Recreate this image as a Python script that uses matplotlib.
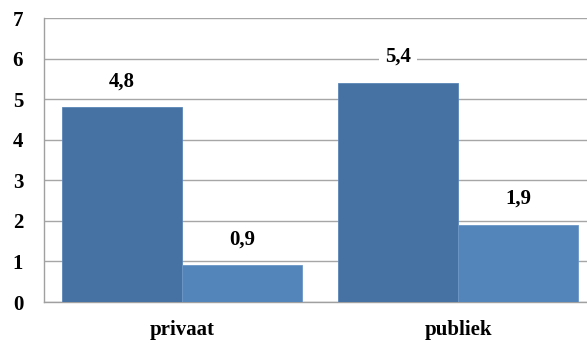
import numpy as np
import matplotlib
matplotlib.use('Agg')
import matplotlib.pyplot as plt

categories = ['privaat', 'publiek']
serie_a = [4.8, 5.4]
serie_b = [0.9, 1.9]
y_ticks = [0, 1, 2, 3, 4, 5, 6, 7]

plt.rcParams['font.family'] = ['Liberation Serif', 'DejaVu Serif']
plt.rcParams['font.weight'] = 'bold'

fig = plt.figure(figsize=(5.87, 3.45), dpi=100)
W, H = 587, 345
# axes reach a bit past the right edge of the canvas
ax = fig.add_axes([44 / W, 1 - 302 / H, 552 / W, 284 / H])

x = np.arange(len(categories))
bw = 120 / 276
b1 = ax.bar(x - bw / 2, serie_a, bw, color='#4672A3', edgecolor='#5B86B8', linewidth=0.6, zorder=3)
b2 = ax.bar(x + bw / 2, serie_b, bw, color='#5485BA', edgecolor='#6C97C6', linewidth=0.6, zorder=3)

# waardelabels boven de staven, met witte achtergrond over de rasterlijnen
for bars, vals in ((b1, serie_a), (b2, serie_b)):
    for r, v in zip(bars, vals):
        ax.annotate(f'{v:.1f}'.replace('.', ','), (r.get_x() + r.get_width() / 2, v),
                    xytext=(0, 26), textcoords='offset pixels',
                    ha='center', va='center', fontsize=15, fontweight='bold',
                    bbox=dict(facecolor='white', edgecolor='none', pad=4), zorder=4)

ax.set_xlim(-0.5, 1.5)
ax.set_ylim(0, 7)
ax.set_yticks(y_ticks)
ax.set_yticklabels([str(t) for t in y_ticks], fontsize=15, fontweight='bold')
ax.set_xticks(x)
ax.set_xticklabels(categories, fontsize=15, fontweight='bold')
ax.tick_params(length=0)
ax.tick_params(axis='y', pad=15)
ax.tick_params(axis='x', pad=13)
ax.yaxis.grid(True, color='#A6A6A6', linewidth=1, zorder=0)
ax.set_axisbelow(True)
for s in ['top', 'right']:
    ax.spines[s].set_visible(False)
for s in ['left', 'bottom']:
    ax.spines[s].set_color('#A0A0A0')
    ax.spines[s].set_linewidth(1)

fig.savefig('out.png', dpi=100)
